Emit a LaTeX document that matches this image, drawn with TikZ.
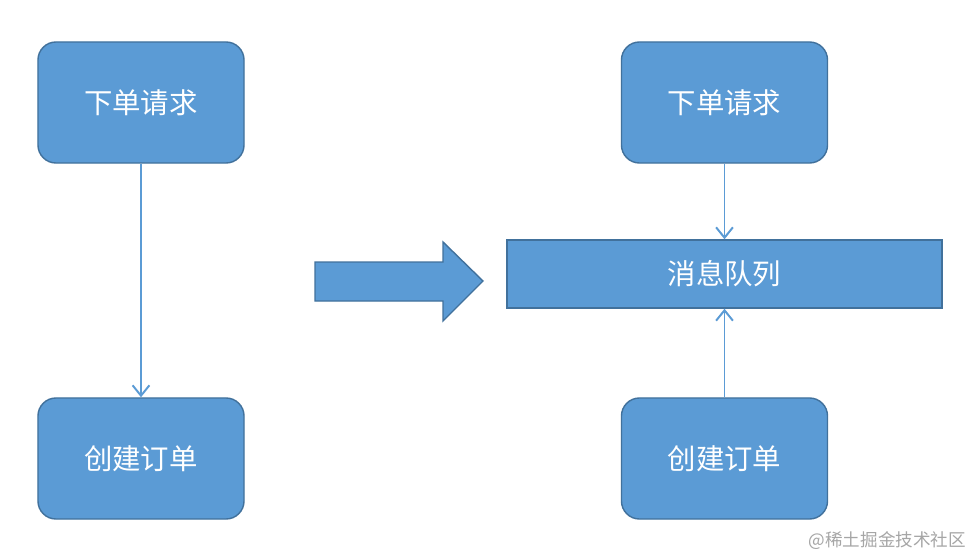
\documentclass[tikz,border=0pt]{standalone}
\usepackage{fontspec}
\setmainfont{Noto Sans CJK SC}
\usetikzlibrary{arrows.meta}
\definecolor{boxfill}{HTML}{5B9BD5}
\definecolor{boxline}{HTML}{41719C}
\definecolor{markgray}{HTML}{A6A6A6}
\tikzset{
  stepbox/.style={draw=boxline, fill=boxfill, line width=1pt, rounded corners=0.45cm,
    minimum width=5.15cm, minimum height=3.025cm, inner sep=0pt,
    text=white, font=\fontsize{20.2}{23}\selectfont},
  queuebox/.style={stepbox, rounded corners=0pt, minimum width=10.875cm, minimum height=1.7cm},
  link/.style={draw=boxfill, line width=1.4pt, -{Straight Barb[length=2.6mm,width=4.2mm]}}
}
\begin{document}
\begin{tikzpicture}[x=0.025cm, y=-0.025cm]
            \useasboundingbox[fill=white] (0,0) rectangle (976,558);
            \node[stepbox] at (141,102.5) (reqa) {下单请求};
            \node[stepbox] at (141,458.5) (orda) {创建订单};
            \node[stepbox] at (724.5,102.5) (reqb) {下单请求};
            \node[queuebox] at (724.5,274) (mq) {消息队列};
            \node[stepbox] at (724.5,458.5) (ordb) {创建订单};
            \filldraw[fill=boxfill, draw=boxline, line width=1pt]
              (315,262) -- (443,262) -- (443,242) -- (483,281) -- (443,321) -- (443,301) -- (315,301) -- cycle;
            \draw[link] (reqa) to (orda);
            \draw[link] (reqb) to (mq);
            \draw[link] (ordb) to (mq);
            \node[text=markgray, font=\fontsize{12.5}{14}\selectfont, anchor=east] at (971,541) (mark) {@稀土掘金技术社区};
        \end{tikzpicture}
\end{document}
